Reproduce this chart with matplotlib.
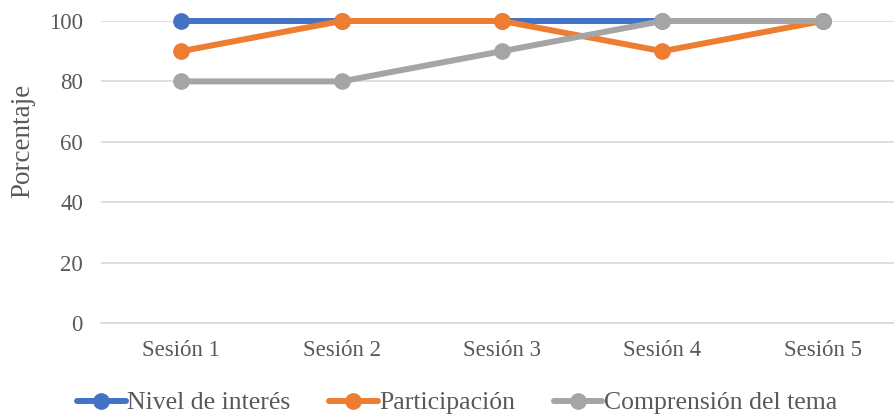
import matplotlib.pyplot as plt

plt.rcParams["font.family"] = ["Liberation Serif", "DejaVu Serif"]

sessions = ["Sesión 1", "Sesión 2", "Sesión 3", "Sesión 4", "Sesión 5"]
interes = [100, 100, 100, 100, 100]
participacion = [90, 100, 100, 90, 100]
comprension = [80, 80, 90, 100, 100]

series = [
    ("Nivel de interés", interes, "#4472C4"),
    ("Participación", participacion, "#ED7D31"),
    ("Comprensión del tema", comprension, "#A5A5A5"),
]

fig = plt.figure(figsize=(8.94, 4.16), dpi=100)
ax = fig.add_axes([101 / 894, 93 / 416, 802 / 894, 302 / 416])

x = range(len(sessions))
for name, vals, col in series:
    ax.plot(x, vals, color=col, lw=4.3, marker="o", ms=11, label=name,
            solid_capstyle="round", clip_on=False)

ax.set_xlim(-0.5, len(sessions) - 0.5)
ax.set_ylim(0, 100)
ax.set_yticks(range(0, 101, 20))
ax.set_xticks(list(x))
ax.set_xticklabels(sessions)
ax.grid(axis="y", color="#D9D9D9", lw=1.2)
ax.set_axisbelow(True)
for s in ["top", "right", "left"]:
    ax.spines[s].set_visible(False)
ax.spines["bottom"].set_color("#D9D9D9")
ax.spines["bottom"].set_linewidth(1.2)
ax.tick_params(length=0, labelsize=16.5, colors="#595959")
ax.tick_params(axis="y", pad=13)
ax.tick_params(axis="x", pad=12)
ax.set_ylabel("Porcentaje", fontsize=19.5, color="#595959")
ax.yaxis.set_label_coords(-66 / 802, 0.603)

fig.legend(*ax.get_legend_handles_labels(), loc="center",
           bbox_to_anchor=(457 / 894, 13 / 416),
           ncol=3, frameon=False, fontsize=18.5, labelcolor="#595959",
           handlelength=1.9, handletextpad=0.05, columnspacing=1.5,
           borderpad=0)

fig.savefig("out.png", dpi=100)
